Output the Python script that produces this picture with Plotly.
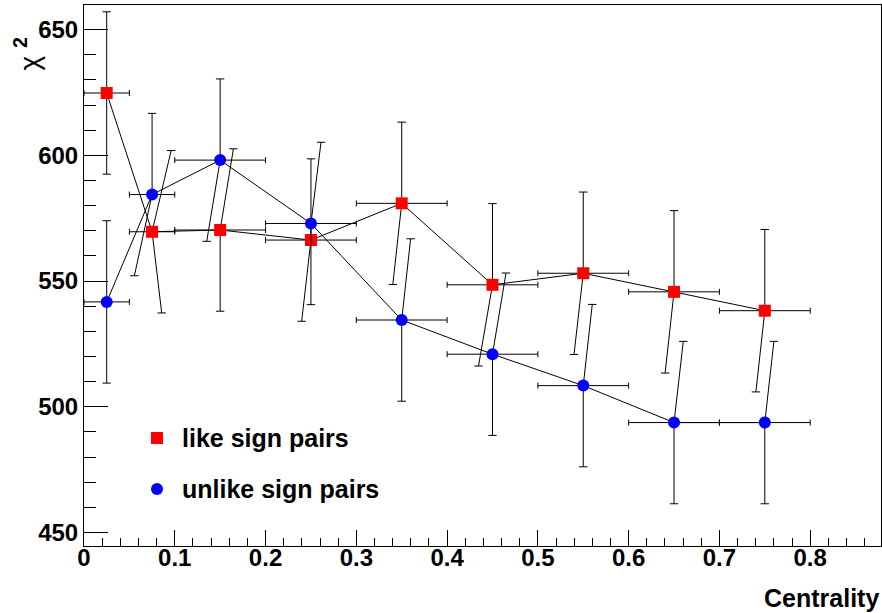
import plotly.graph_objects as go

# ---- data ----
centrality = [0.025, 0.075, 0.15, 0.25, 0.35, 0.45, 0.55, 0.65, 0.75]
centrality_err = [0.025, 0.025, 0.05, 0.05, 0.05, 0.05, 0.05, 0.05, 0.05]

like_chi2 = [624.8, 569.6, 570.3, 566.3, 580.9, 548.5, 553.1, 545.7, 538.2]
like_err = [32.3, 32.3, 32.3, 32.3, 32.3, 32.3, 32.3, 32.3, 32.3]
# horizontal offset of the end of the (skewed) upper / lower error bars
like_skew_up = [0, 0.021, 0.0146, 0, 0, 0, 0, 0, 0]
like_skew_lo = [0, 0.0106, 0, -0.0102, -0.0098, -0.0154, -0.0102, -0.0098, -0.0098]

unlike_chi2 = [541.7, 584.4, 598.1, 572.9, 534.5, 520.9, 508.4, 493.7, 493.7]
unlike_err = [32.3, 32.3, 32.3, 32.3, 32.3, 32.3, 32.3, 32.3, 32.3]
unlike_skew_up = [0, 0, 0, 0.0111, 0.0098, 0.0149, 0.0099, 0.0102, 0.01]
unlike_skew_lo = [0, -0.0195, -0.0148, 0, 0, 0, 0, 0, 0]

x_ticks = [0, 0.1, 0.2, 0.3, 0.4, 0.5, 0.6, 0.7, 0.8]
y_ticks = [450, 500, 550, 600, 650]

FONT = "Liberation Sans"

fig = go.Figure()


def add_series(y, ey, su, sl, color, symbol):
    # connecting polyline
    fig.add_trace(go.Scatter(x=centrality, y=y, mode="lines",
                             line=dict(color="black", width=1),
                             hoverinfo="skip", showlegend=False))
    # vertical (possibly skewed) error bars
    sx, sy, cx, cy = [], [], [], []
    for xi, yi, e, du, dl in zip(centrality, y, ey, su, sl):
        sx += [xi, xi + du, None, xi, xi + dl, None]
        sy += [yi, yi + e, None, yi, yi - e, None]
        cx += [xi + du, xi + dl]
        cy += [yi + e, yi - e]
    fig.add_trace(go.Scatter(x=sx, y=sy, mode="lines",
                             line=dict(color="black", width=1),
                             hoverinfo="skip", showlegend=False))
    fig.add_trace(go.Scatter(x=cx, y=cy, mode="markers",
                             marker=dict(symbol="line-ew", size=6,
                                         line=dict(color="black", width=1)),
                             hoverinfo="skip", showlegend=False))
    # markers with horizontal error bars
    fig.add_trace(go.Scatter(x=centrality, y=y, mode="markers",
                             marker=dict(symbol=symbol, size=12, color=color,
                                         line=dict(width=0)),
                             error_x=dict(type="data", array=centrality_err,
                                          color="black", thickness=1, width=3),
                             showlegend=False))


add_series(like_chi2, like_err, like_skew_up, like_skew_lo, "#ff0000", "square")
add_series(unlike_chi2, unlike_err, unlike_skew_up, unlike_skew_lo, "#0000ff", "circle")

tickfont = dict(family=FONT, size=24, color="black", weight="bold")

fig.update_xaxes(range=[0, 0.878], tickvals=x_ticks,
                 ticktext=[f"{v:g}" for v in x_ticks],
                 ticks="inside", ticklen=16, tickwidth=1, tickcolor="black",
                 minor=dict(dtick=0.02, tick0=0, ticks="inside", ticklen=8,
                            tickcolor="black", tickwidth=1),
                 showline=True, linecolor="black", linewidth=1, mirror=True,
                 showgrid=False, zeroline=False, tickfont=tickfont,
                 ticklabelstandoff=-10, automargin=False)
fig.update_yaxes(range=[444.6, 659.8], tickvals=y_ticks,
                 ticks="inside", ticklen=24, tickwidth=1, tickcolor="black",
                 minor=dict(dtick=10, tick0=450, ticks="inside", ticklen=12,
                            tickcolor="black", tickwidth=1),
                 showline=True, linecolor="black", linewidth=1, mirror=True,
                 showgrid=False, zeroline=False, tickfont=tickfont,
                 automargin=False)

W, H = 882, 613
L, R, T, B = 84, 1, 5, 67
pw, ph = W - L - R, H - T - B


def px(xp):
    return (xp - L) / pw


def py(yp):
    return (H - B - yp) / ph


shapes = [
    dict(type="rect", xref="paper", yref="paper", xsizemode="pixel", ysizemode="pixel",
         xanchor=px(157), yanchor=py(438), x0=-6, x1=6, y0=-6, y1=6,
         fillcolor="#ff0000", line=dict(width=0)),
    dict(type="circle", xref="paper", yref="paper", xsizemode="pixel", ysizemode="pixel",
         xanchor=px(157), yanchor=py(489), x0=-6, x1=6, y0=-6, y1=6,
         fillcolor="#0000ff", line=dict(width=0)),
]

legfont = dict(family=FONT, size=25, color="black", weight="bold")
annotations = [
    dict(text="like sign pairs", xref="paper", yref="paper", x=px(180), y=py(438),
         xanchor="left", yanchor="middle", showarrow=False, font=legfont),
    dict(text="unlike sign pairs", xref="paper", yref="paper", x=px(180), y=py(489),
         xanchor="left", yanchor="middle", showarrow=False, font=legfont),
    dict(text="Centrality", xref="paper", yref="paper", x=1.0, y=py(598),
         xanchor="right", yanchor="middle", showarrow=False, font=legfont),
    dict(text="χ <sup><b>2</b></sup>", xref="paper", yref="paper", x=px(28), y=py(36),
         xanchor="center", yanchor="top", textangle=-90, showarrow=False,
         font=dict(family=FONT, size=28, color="black")),
]

fig.update_layout(width=W, height=H, margin=dict(l=L, r=R, t=T, b=B, pad=0),
                  plot_bgcolor="white", paper_bgcolor="white",
                  shapes=shapes, annotations=annotations, showlegend=False)

fig.write_html("out.html", config={"displayModeBar": False},
               post_script="document.body.style.margin='0px';"
                           "document.body.style.overflow='hidden';")
